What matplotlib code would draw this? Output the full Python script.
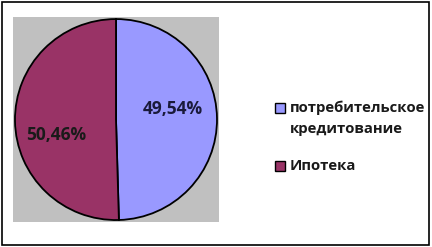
import matplotlib
matplotlib.use("Agg")
import matplotlib.pyplot as plt
from matplotlib.patches import Rectangle

categories = ["потребительское\nкредитование", "Ипотека"]
values = [49.54, 50.46]
labels = ["49,54%", "50,46%"]
colors = ["#9999FF", "#993366"]

plt.rcParams['font.family'] = ['Open Sans', 'DejaVu Sans']

W, H = 432, 247
fig = plt.figure(figsize=(W / 100, H / 100), dpi=100)
fig.patch.set_facecolor("white")
fig.add_artist(Rectangle((0.004, 0.008), 0.988, 0.984, transform=fig.transFigure,
                         fill=False, edgecolor="black", linewidth=1.2))

ax = fig.add_axes([0.030, 0.101, 0.477, 0.830])
wedges, _ = ax.pie(values, colors=colors, startangle=90, counterclock=False,
                   radius=1.0, frame=True,
                   wedgeprops=dict(edgecolor="black", linewidth=1.3))
ax.set_facecolor("#C0C0C0")
ax.patch.set_visible(True)
ax.set_xlim(-1.02, 1.02)
ax.set_ylim(-1.02, 1.02)
ax.set_aspect("auto")
ax.set_xticks([]); ax.set_yticks([])
for s in ax.spines.values():
    s.set_visible(False)

ax.text(0.56, 0.10, labels[0], ha="center", va="center", fontsize=12.5,
        fontweight="bold", color="#1a1a3a")
ax.text(-0.59, -0.15, labels[1], ha="center", va="center", fontsize=12.5,
        fontweight="bold", color="#1a1a1a")

# legend (manual layout to match first-line aligned markers)
ys = [108, 166]
for i, (cat, col) in enumerate(zip(categories, colors)):
    yc = ys[i]
    fig.add_artist(Rectangle((275 / W, 1 - (yc + 5) / H), 10 / W, 10 / H,
                             transform=fig.transFigure, facecolor=col,
                             edgecolor="black", linewidth=1.0))
    fig.text(289.5 / W, 1 - (yc - 7.5) / H, cat, ha="left", va="top",
             fontsize=10.7, fontweight="bold", color="#1a1a1a",
             linespacing=1.6)

fig.savefig("out.png", dpi=100)
